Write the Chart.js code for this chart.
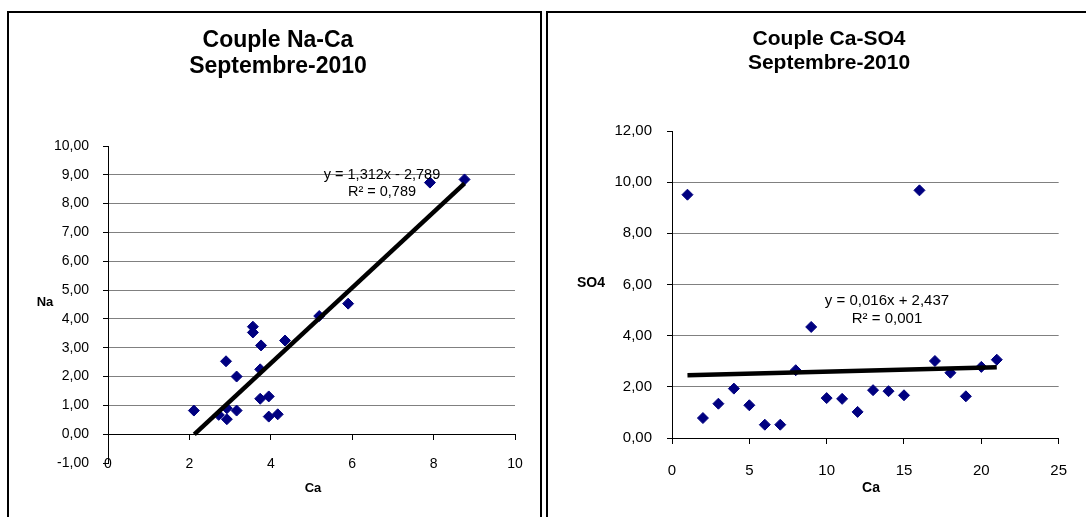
<!DOCTYPE html>
<html>
<head>
<meta charset="utf-8">
<script src="https://cdn.jsdelivr.net/npm/chart.js@4.4.1/dist/chart.umd.min.js"></script>
<style>
  html, body { margin: 0; padding: 0; background: #fff; overflow: hidden; }
  .box { position: absolute; top: 11px; border: 2px solid #000; background: #fff; }
  #boxLeft { left: 7px; width: 531px; height: 520px; }
  #boxRight { left: 546px; width: 560px; height: 520px; }
  canvas { display: block; }
</style>
</head>
<body>
<div class="box" id="boxLeft"><canvas id="naCa" width="531" height="504"></canvas></div>
<div class="box" id="boxRight"><canvas id="caSo4" width="538" height="504"></canvas></div>
<script>
// Couple Na-Ca, Septembre-2010
var naCaCa = [2.11, 2.72, 2.92, 2.92, 3.16, 2.90, 3.16, 3.56, 3.56, 3.76, 3.74, 3.74, 3.95, 3.95, 4.17, 4.35, 5.19, 5.90, 7.91, 8.76];
var naCaNa = [0.82, 0.67, 0.90, 0.52, 0.82, 2.53, 2.00, 3.73, 3.53, 3.08, 2.25, 1.23, 1.31, 0.61, 0.69, 3.25, 4.10, 4.53, 8.73, 8.84];
var naCaTrendX = [2.12, 8.76];
var naCaTrendY = [-0.01, 8.70];
var naCaEquation = ['y = 1,312x - 2,789', 'R² = 0,789'];
var naCaTitle = ['Couple Na-Ca', 'Septembre-2010'];

// Couple Ca-SO4, Septembre-2010
var caSo4Ca = [1, 2, 3, 4, 5, 6, 7, 8, 9, 10, 11, 12, 13, 14, 15, 16, 17, 18, 19, 20, 21];
var caSo4So4 = [9.51, 0.78, 1.34, 1.93, 1.28, 0.52, 0.52, 2.65, 4.34, 1.56, 1.53, 1.02, 1.87, 1.83, 1.67, 9.68, 3.01, 2.55, 1.63, 2.78, 3.06];
var caSo4TrendX = [1, 21];
var caSo4TrendY = [2.45, 2.77];
var caSo4Equation = ['y = 0,016x + 2,437', 'R² = 0,001'];
var caSo4Title = ['Couple Ca-SO4', 'Septembre-2010'];

var FONT = "'Liberation Sans', Arial, sans-serif";
var gridGray = '#808080';

function pairs(xs, ys) {
    return xs.map(function(x, i) { return { x: x, y: ys[i] }; });
}

function comma(v) {
    return v.toFixed(2).replace('.', ',');
}

// draws titles, axis names and the trendline equation as plain text
var chartNotes = {
    id: 'chartNotes',
    afterDraw: function(chart, args, opts) {
        var ctx = chart.ctx;
        (opts.items || []).forEach(function(it) {
            ctx.save();
            ctx.font = it.font;
            ctx.fillStyle = '#000';
            ctx.textAlign = 'center';
            ctx.textBaseline = 'middle';
            ctx.fillText(it.text, it.x, it.y);
            ctx.restore();
        });
    }
};

function makeChart(id, s) {
    var ctx = document.getElementById(id).getContext('2d');
    return new Chart(ctx, {
        type: 'scatter',
        data: {
            datasets: [{
                // trendline
                data: pairs(s.trendX, s.trendY),
                showLine: true,
                borderColor: '#000',
                borderWidth: 4.5,
                pointRadius: 0,
                order: 0
            }, {
                data: pairs(s.xs, s.ys),
                pointStyle: 'rectRot',
                pointRadius: 5.5,
                backgroundColor: '#000080',
                borderColor: '#000080',
                borderWidth: 1,
                order: 1
            }]
        },
        options: {
            responsive: false,
            animation: false,
            events: [],
            layout: { padding: s.padding },
            scales: {
                x: {
                    type: 'linear',
                    position: { y: 0 },
                    min: s.xMin, max: s.xMax,
                    ticks: { stepSize: s.xStep, color: '#000', padding: s.xLabelPad,
                             font: { family: FONT, size: s.tickSize } },
                    grid: { drawOnChartArea: false, tickLength: 5, tickColor: '#000' },
                    border: { color: '#000', width: 1 }
                },
                y: {
                    min: s.yMin, max: s.yMax,
                    afterFit: function(scale) { scale.width = s.yWidth; },
                    ticks: { stepSize: s.yStep, color: '#000', padding: s.yLabelPad,
                             font: { family: FONT, size: s.tickSize },
                             callback: function(v) { return comma(v); } },
                    grid: {
                        color: function(c) {
                            var v = c.tick ? c.tick.value : null;
                            return (v > 0 && v < s.yMax) ? gridGray : 'rgba(0,0,0,0)';
                        },
                        tickLength: 5, tickColor: '#000'
                    },
                    border: { color: '#000', width: 1 }
                }
            },
            plugins: {
                legend: { display: false },
                tooltip: { enabled: false },
                chartNotes: { items: s.notes }
            }
        },
        plugins: [chartNotes]
    });
}

makeChart('naCa', {
    xs: naCaCa, ys: naCaNa, trendX: naCaTrendX, trendY: naCaTrendY,
    xMin: 0, xMax: 10, xStep: 2, yMin: -1, yMax: 10, yStep: 1,
    padding: { left: 0, right: 25, top: 133, bottom: 54 },
    yWidth: 99, yLabelPad: 14, xLabelPad: 17, tickSize: 14,
    notes: [
        { text: naCaTitle[0], x: 269, y: 28, font: 'bold 23px ' + FONT },
        { text: naCaTitle[1], x: 269, y: 54, font: 'bold 23px ' + FONT },
        { text: 'Na', x: 36, y: 289, font: 'bold 13px ' + FONT },
        { text: 'Ca', x: 304, y: 475, font: 'bold 13px ' + FONT },
        { text: naCaEquation[0], x: 373, y: 162, font: '14.5px ' + FONT },
        { text: naCaEquation[1], x: 373, y: 179, font: '14.5px ' + FONT }
    ]
});

makeChart('caSo4', {
    xs: caSo4Ca, ys: caSo4So4, trendX: caSo4TrendX, trendY: caSo4TrendY,
    xMin: 0, xMax: 25, xStep: 5, yMin: 0, yMax: 12, yStep: 2,
    padding: { left: 0, right: 15, top: 118, bottom: 79 },
    yWidth: 124, yLabelPad: 15, xLabelPad: 19, tickSize: 15,
    notes: [
        { text: caSo4Title[0], x: 281, y: 26, font: 'bold 21px ' + FONT },
        { text: caSo4Title[1], x: 281, y: 50, font: 'bold 21px ' + FONT },
        { text: 'SO4', x: 43, y: 270, font: 'bold 14px ' + FONT },
        { text: 'Ca', x: 323, y: 475, font: 'bold 14px ' + FONT },
        { text: caSo4Equation[0], x: 339, y: 288, font: '15px ' + FONT },
        { text: caSo4Equation[1], x: 339, y: 306, font: '15px ' + FONT }
    ]
});
</script>
</body>
</html>
